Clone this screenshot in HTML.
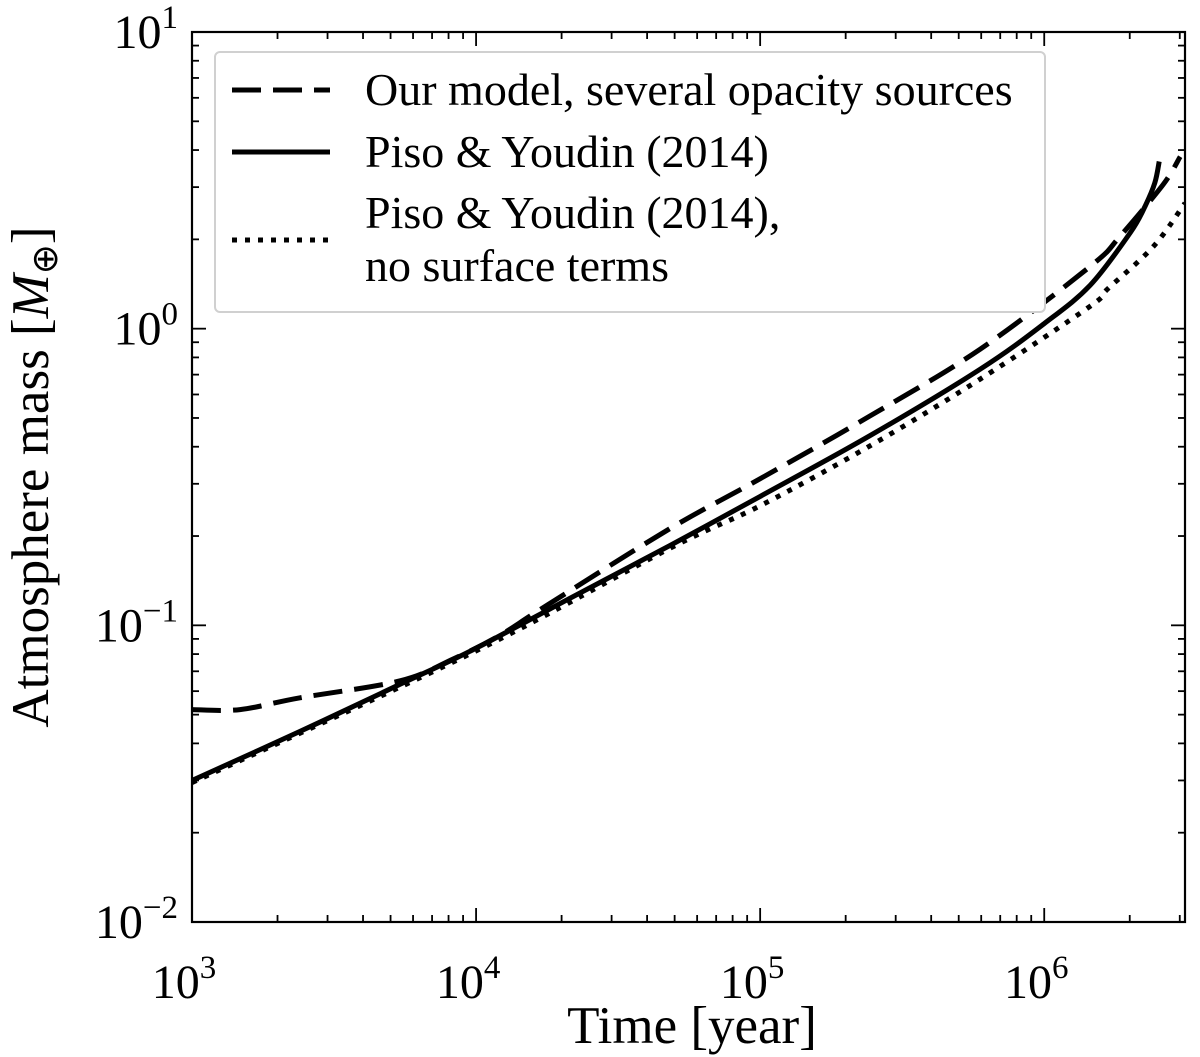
<!DOCTYPE html>
<html><head><meta charset="utf-8"><style>
html,body{margin:0;padding:0;background:#fff;}
svg{display:block;font-family:"Liberation Serif",serif;}
</style></head><body>
<svg id="chart" width="1200" height="1057" viewBox="0 0 1200 1057" xmlns="http://www.w3.org/2000/svg"></svg>
<script>
const solidT=[1000,2400,5400,9530,21400,48200,100000,243800,595000,1000000,1450000,2010000,2270000,2450000,2540000];
const solidM=[0.030,0.0439,0.0633,0.0818,0.1233,0.186,0.272,0.436,0.73,1.04,1.40,2.11,2.6,3.1,3.66];
const dashT=[1000,1476,2400,5400,8300,12000,17800,48200,100000,243800,595000,1450000,1850000,2620000,3010000];
const dashM=[0.052,0.052,0.057,0.065,0.077,0.092,0.117,0.212,0.312,0.508,0.853,1.62,2.05,3.06,3.80];
const dotT=[1000,10000,48200,100000,243800,595000,1450000,1670000,2420000,3130000];
const dotM=[0.0295,0.082,0.182,0.253,0.403,0.676,1.19,1.36,1.89,2.65];
const xTickExp=[3,4,5,6];
const yTickExp=[-2,-1,0,1];
const legendLabels=[["Our model, several opacity sources"],["Piso & Youdin (2014)"],["Piso & Youdin (2014),","no surface terms"]];

const L=192,R=1185,T=32,B=922;
const xMinL=3,xMaxL=Math.log10(3130000),yMinL=-2,yMaxL=1;
const X=t=>L+(Math.log10(t)-xMinL)/(xMaxL-xMinL)*(R-L);
const Y=m=>B-(Math.log10(m)-yMinL)/(yMaxL-yMinL)*(B-T);
const svg=document.getElementById('chart');
const NS='http://www.w3.org/2000/svg';
function mk(tag,attrs,parent){const e=document.createElementNS(NS,tag);for(const k in attrs)e.setAttribute(k,attrs[k]);(parent||svg).appendChild(e);return e;}

const defs=mk('defs',{});const cp=mk('clipPath',{id:'clip'},defs);mk('rect',{x:L,y:T,width:R-L,height:B-T},cp);

const ticks=mk('g',{stroke:'#000','stroke-width':1.8});


for(let e=3;e<=6;e++){for(let k=1;k<10;k++){const t=k*Math.pow(10,e);if(t>3130000)break;const x=X(t);const len=k===1?14:7;
mk('line',{x1:x,y1:B,x2:x,y2:B-len},ticks);mk('line',{x1:x,y1:T,x2:x,y2:T+len},ticks);}}
for(let e=-2;e<=1;e++){for(let k=1;k<10;k++){const m=k*Math.pow(10,e);if(m>10)break;const y=Y(m);const len=k===1?14:7;
mk('line',{x1:L,y1:y,x2:L+len,y2:y},ticks);mk('line',{x1:R,y1:y,x2:R-len,y2:y},ticks);}}

xTickExp.forEach(e=>{const t=mk('text',{x:X(Math.pow(10,e))-8,y:998,'text-anchor':'middle','font-size':48});


t.innerHTML='10<tspan dy="-20" font-size="33">'+e+'</tspan>';});
yTickExp.forEach(e=>{const t=mk('text',{x:178,y:Y(Math.pow(10,e))+16,'text-anchor':'end','font-size':48});


t.innerHTML='10<tspan dy="-20" font-size="33">'+(e<0?'\u2212'+(-e):e)+'</tspan>';});

const g=mk('g',{'clip-path':'url(#clip)',fill:'none',stroke:'#000','stroke-width':5});
function smoothPath(pts){let d='M'+pts[0][0].toFixed(1)+','+pts[0][1].toFixed(1);
for(let i=0;i<pts.length-1;i++){const p0=pts[Math.max(0,i-1)],p1=pts[i],p2=pts[i+1],p3=pts[Math.min(pts.length-1,i+2)];
const c1=[p1[0]+(p2[0]-p0[0])/6,p1[1]+(p2[1]-p0[1])/6],c2=[p2[0]-(p3[0]-p1[0])/6,p2[1]-(p3[1]-p1[1])/6];
d+=' C'+c1.map(v=>v.toFixed(1)).join(',')+' '+c2.map(v=>v.toFixed(1)).join(',')+' '+p2[0].toFixed(1)+','+p2[1].toFixed(1);}
return d;}
function series(ts,ms,dash,name){const pts=ts.map((t,i)=>[X(t),Y(ms[i])]);
const p=mk('path',{d:smoothPath(pts),'stroke-dasharray':dash,'stroke-linejoin':'round'},g);

}
series(dotT,dotM,'5,8','series-no-surface-terms');
series(solidT,solidM,'none','series-piso-youdin');
series(dashT,dashM,'29,12','series-our-model');

const fr=mk('rect',{x:L,y:T,width:R-L,height:B-T,fill:'none',stroke:'#000','stroke-width':2.2});



const lg=mk('g',{});


mk('rect',{x:215,y:52,width:830,height:260,rx:5,fill:'#fff',stroke:'#d0d0d0','stroke-width':2},lg);
const sampleY=[90,152,240],dashes=['29,12','none','5,8'];
legendLabels.forEach((lines,i)=>{const en=mk('g',{},lg);


mk('line',{x1:232,y1:sampleY[i],x2:330,y2:sampleY[i],stroke:'#000','stroke-width':5,'stroke-dasharray':dashes[i]},en);
lines.forEach((s,j)=>{const ty=(i===2?[228,281][j]:sampleY[i]+15);const t=mk('text',{x:365,y:ty,'font-size':46},en);t.textContent=s;});});

const xt=mk('text',{x:692,y:1043,'text-anchor':'middle','font-size':53});


xt.textContent='Time [year]';
const yt=mk('text',{x:0,y:0,'text-anchor':'middle','font-size':53,transform:'translate(48,477) rotate(-90)'});


yt.innerHTML='Atmosphere mass [<tspan font-style="italic">M</tspan><tspan font-size="36" dy="9">\u2295</tspan><tspan dy="-9">]</tspan>';
</script>
</body></html>
